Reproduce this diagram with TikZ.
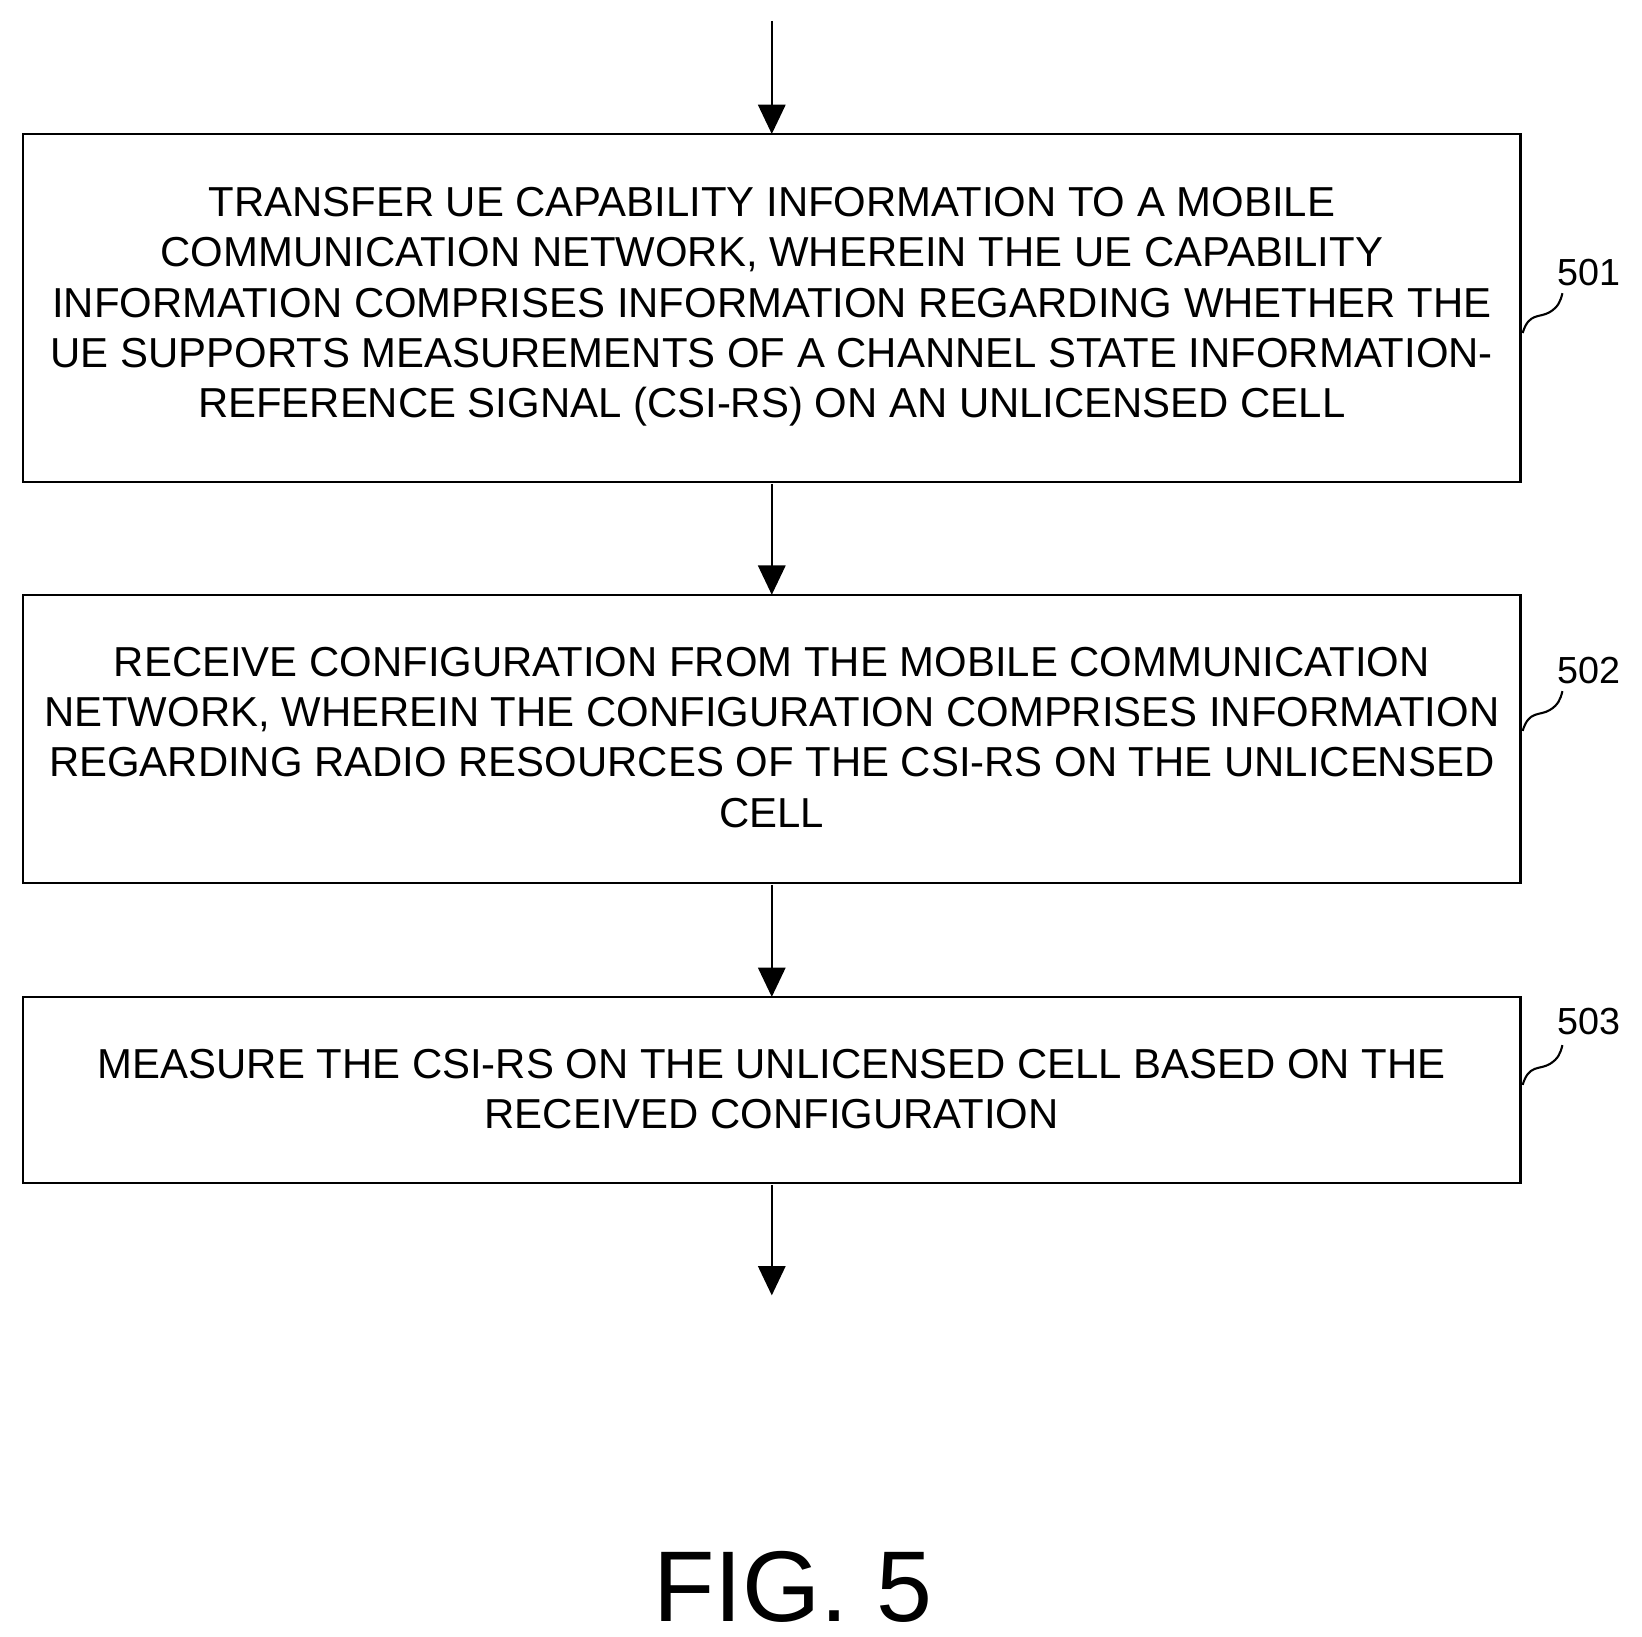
\documentclass[tikz,border=0pt]{standalone}
\usepackage{fontspec}
\setmainfont{Liberation Sans}
\usetikzlibrary{arrows.meta}
\begin{document}
\begin{tikzpicture}[x=0.5pt,y=-0.5pt,
  box/.style={draw,line width=1pt,inner sep=0},
  txt/.style={align=center,font=\fontsize{20}{24}\selectfont},
  arr/.style={line width=1.2pt,-{Triangle[length=14pt,width=13pt]}},
  lbl/.style={font=\fontsize{18}{22}\selectfont}]
\useasboundingbox (0,0) rectangle (1568,1563);
\draw[box] (22,128) rectangle (1452,460);
\draw[box] (22,568) rectangle (1452,843);
\draw[box] (22,952) rectangle (1452,1130);
\node[txt] (t1) at (737,293) {TRANSFER UE CAPABILITY INFORMATION TO A MOBILE\\COMMUNICATION NETWORK, WHEREIN THE UE CAPABILITY\\INFORMATION COMPRISES INFORMATION REGARDING WHETHER THE\\UE SUPPORTS MEASUREMENTS OF A CHANNEL STATE INFORMATION-\\REFERENCE SIGNAL (CSI-RS) ON AN UNLICENSED CELL};
\node[txt] (t2) at (737,704) {RECEIVE CONFIGURATION FROM THE MOBILE COMMUNICATION\\NETWORK, WHEREIN THE CONFIGURATION COMPRISES INFORMATION\\REGARDING RADIO RESOURCES OF THE CSI-RS ON THE UNLICENSED\\CELL};
\node[txt] (t3) at (737,1040) {MEASURE THE CSI-RS ON THE UNLICENSED CELL BASED ON THE\\RECEIVED CONFIGURATION};
\coordinate (a0) at (737,20);
\coordinate (a1) at (737,128);
\coordinate (a2) at (737,462);
\coordinate (a3) at (737,568);
\coordinate (a4) at (737,845);
\coordinate (a5) at (737,952);
\coordinate (a6) at (737,1132);
\coordinate (a7) at (737,1237);
\draw[arr] (a0) -- (a1);
\draw[arr] (a2) -- (a3);
\draw[arr] (a4) -- (a5);
\draw[arr] (a6) -- (a7);
\node[lbl] (l1) at (1517,260) {501};
\node[lbl] (l2) at (1517,640) {502};
\node[lbl] (l3) at (1517,975) {503};
\foreach \y in {318,698,1036}{
  \draw[line width=1pt] (1454,\y) .. controls (1460,\y-20) and (1470,\y-14) .. (1480,\y-20) .. controls (1488,\y-25) and (1490,\y-30) .. (1492,\y-38);
}
\node[font=\fontsize{48}{52}\selectfont] (fig) at (757,1515) {FIG. 5};
\end{tikzpicture}
\end{document}
